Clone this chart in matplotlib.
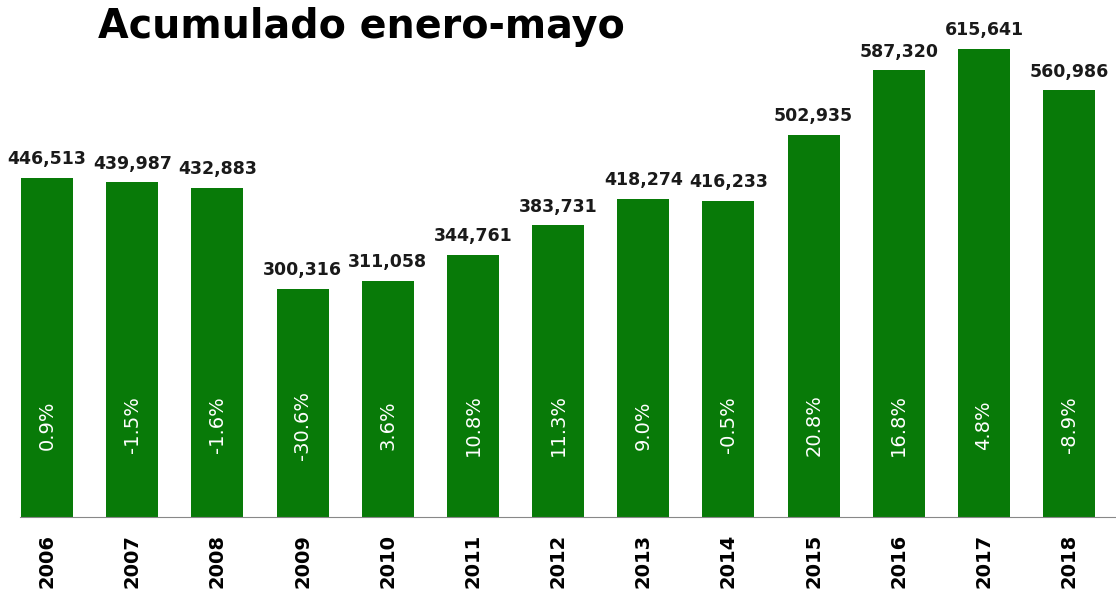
import matplotlib.pyplot as plt
import numpy as np

# Data
years = ["2006", "2007", "2008", "2009", "2010", "2011", "2012",
         "2013", "2014", "2015", "2016", "2017", "2018"]
totals = [446513, 439987, 432883, 300316, 311058, 344761, 383731,
          418274, 416233, 502935, 587320, 615641, 560986]
changes = ["0.9%", "-1.5%", "-1.6%", "-30.6%", "3.6%", "10.8%", "11.3%",
           "9.0%", "-0.5%", "20.8%", "16.8%", "4.8%", "-8.9%"]


def main():
    fig = plt.figure(figsize=(11.16, 5.95), dpi=100)
    ax = fig.add_axes([0.018, 0.131, 0.982, 0.869])

    x = np.arange(len(years))
    ax.bar(x, totals, width=0.61, color="#087a08")

    # Value labels above the bars
    for xi, v in zip(x, totals):
        ax.annotate(f"{v:,}", (xi, v), xytext=(0, 7), textcoords="offset points",
                    ha="center", va="bottom", fontsize=12.5, fontweight="bold",
                    color="#1a1a1a")

    # Year-over-year change inside the bars
    for xi, c in zip(x, changes):
        ax.text(xi, 121000, c, rotation=90, ha="center", va="center",
                fontsize=14, color="white")

    ax.set_xlim(-0.317, 12.55)
    ax.set_ylim(0, 680000)
    ax.set_xticks(x)
    ax.set_xticklabels(years, rotation=90, fontsize=14, fontweight="bold")
    ax.tick_params(axis="x", length=0, pad=12)
    ax.set_yticks([])
    for side in ["top", "right", "left"]:
        ax.spines[side].set_visible(False)
    ax.spines["bottom"].set_color("#888888")

    fig.text(0.088, 0.955, "Acumulado enero-mayo", fontsize=28.5,
             fontweight="bold", family="DejaVu Sans", va="center", ha="left")

    fig.savefig("out.png", dpi=100)


if __name__ == "__main__":
    main()
